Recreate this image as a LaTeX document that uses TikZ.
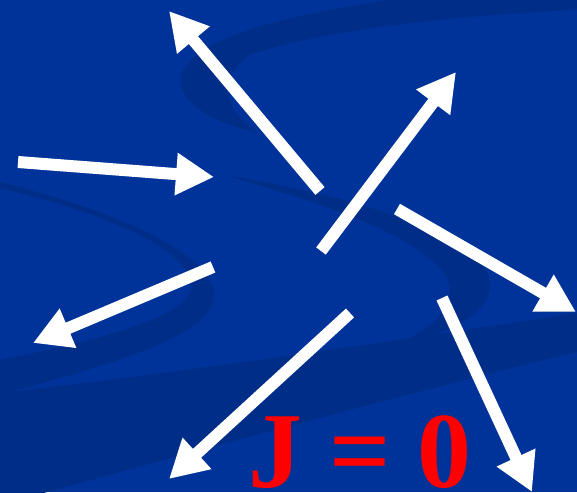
\documentclass[tikz,border=0pt]{standalone}
\usepackage{fontspec}
\setmainfont{Liberation Serif}
\usetikzlibrary{arrows.meta}
\definecolor{bgblue}{RGB}{0,51,153}
\definecolor{swoosh}{RGB}{0,45,135}
\definecolor{jred}{RGB}{255,0,0}
\tikzset{
  vec/.style={draw=white,line width=12pt,-{Triangle[length=38pt,width=40pt]}},
  band/.style={fill=swoosh,draw=none}
}
\begin{document}
\begin{tikzpicture}[x=1pt,y=-1pt]
\useasboundingbox (0,0) rectangle (577,492);
\clip (0,0) rectangle (577,492);
\fill[bgblue] (0,0) rectangle (577,492);
% background swooshes
\fill[band] (577,-2) -- (400,-2) .. controls (290,15) and (200,35) .. (182,72)
  .. controls (172,100) and (215,125) .. (258,132)
  .. controls (225,112) and (215,80) .. (250,55)
  .. controls (320,30) and (460,15) .. (577,10) -- cycle;
\fill[band] (0,182) .. controls (120,212) and (215,255) .. (214,296)
  .. controls (212,335) and (120,362) .. (0,395) -- (0,360)
  .. controls (110,338) and (192,315) .. (191,285)
  .. controls (190,250) and (110,215) .. (0,188) -- cycle;
\fill[band] (225,175) .. controls (380,200) and (495,245) .. (490,288)
  .. controls (486,318) and (440,336) .. (397,344)
  .. controls (448,322) and (462,292) .. (440,268)
  .. controls (400,228) and (320,203) .. (225,175) -- cycle;
\fill[band] (0,393) .. controls (200,370) and (400,340) .. (577,313)
  -- (577,352) .. controls (400,395) and (200,450) .. (0,505) -- cycle;
% vectors
\foreach \n/\a/\b in {1/{320,191}/{169,11},2/{321,251}/{456,72},3/{18,162}/{214,177},
  4/{397,209}/{576,312},5/{213,267}/{33,343},6/{350,313}/{169,479},7/{442,298}/{532,492}} {
  \coordinate (t\n) at (\a);
  \coordinate (h\n) at (\b);
  \draw[vec] (t\n) -- (h\n);
}
\node[anchor=base,text=jred,inner sep=0pt] (jzero) at (360,487)
  {\fontsize{108}{108}\selectfont\bfseries J = 0};
\end{tikzpicture}
\end{document}
